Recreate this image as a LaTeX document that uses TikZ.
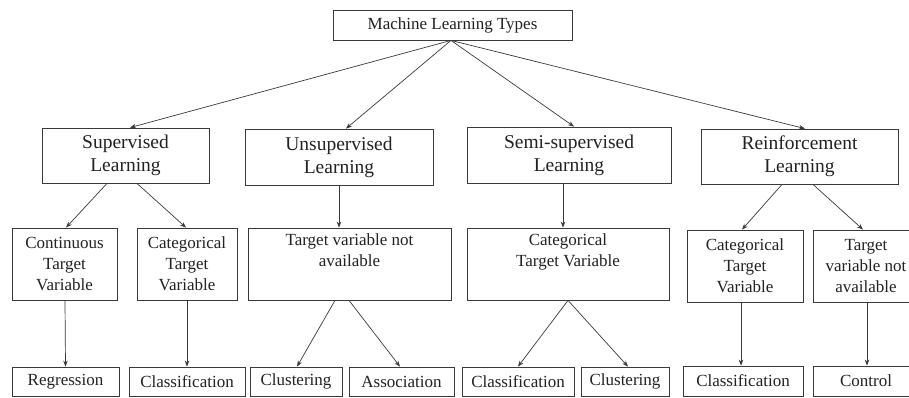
\documentclass[tikz,border=0pt]{standalone}
\usepackage{fontspec}
\setmainfont{Liberation Serif}
\usetikzlibrary{arrows.meta}
\definecolor{ink}{HTML}{222222}
\definecolor{edge}{HTML}{3A3A3A}
\begin{document}
\begin{tikzpicture}[x=1pt,y=-1pt,
  box/.style={draw=edge, line width=0.8pt, inner sep=0pt, align=center, text=ink},
  topfont/.style={font=\fontsize{17}{20}\selectfont},
  lvtwo/.style={font=\fontsize{19.5}{23}\selectfont},
  lvthree/.style={font=\fontsize{17}{21}\selectfont},
  leaf/.style={font=\fontsize{17}{20}\selectfont},
  conn/.style={draw=edge, line width=0.7pt, -{Stealth[length=6pt,width=4.5pt]}}
]
\useasboundingbox (0,0) rectangle (909,397);
\fill[white] (0,0) rectangle (909,397);

% top
\node[box, topfont, minimum width=239pt, minimum height=30pt] (top) at (452.5,25) {Machine Learning Types};

% level 2
\node[box, lvtwo, minimum width=167pt, minimum height=55pt] (sup) at (125.5,155.5) {Supervised\\Learning};
\node[box, lvtwo, minimum width=188pt, minimum height=56pt] (uns) at (339,157) {Unsupervised\\Learning};
\node[box, lvtwo, minimum width=204pt, minimum height=56pt] (semi) at (569,155) {Semi-supervised\\Learning};
\node[box, lvtwo, minimum width=197pt, minimum height=55pt] (rein) at (799.5,156.5) {Reinforcement\\Learning};

% level 3
\node[box, lvthree, minimum width=105pt, minimum height=72pt] (cont) at (64.5,264) {Continuous\\Target\\Variable};
\node[box, lvthree, minimum width=100pt, minimum height=72pt] (catA) at (187,264) {Categorical\\Target\\Variable};
\node[box, lvthree, minimum width=203pt, minimum height=72pt] (tnaA) at (349.5,264) {Target variable not\\available\\\strut};
\node[box, lvthree, minimum width=202pt, minimum height=72pt] (catB) at (568,264) {Categorical\\Target Variable\\\strut};
\node[box, lvthree, minimum width=116pt, minimum height=72pt] (catC) at (745,266) {Categorical\\Target\\Variable};
\node[box, lvthree, minimum width=106pt, minimum height=72pt] (tnaB) at (866,266) {Target\\variable not\\available};

% leaves
\node[box, leaf, minimum width=107pt, minimum height=29pt] (reg) at (65.5,381.5) {Regression};
\node[box, leaf, minimum width=116pt, minimum height=29pt] (clsA) at (187,381.5) {Classification};
\node[box, leaf, minimum width=92pt, minimum height=29pt] (cluA) at (296,381.5) {Clustering};
\node[box, leaf, minimum width=105pt, minimum height=29pt] (asc) at (401.5,381.5) {Association};
\node[box, leaf, minimum width=112pt, minimum height=29pt] (clsB) at (518,381.5) {Classification};
\node[box, leaf, minimum width=88pt, minimum height=29pt] (cluB) at (625,381.5) {Clustering};
\node[box, leaf, minimum width=120pt, minimum height=30pt] (clsC) at (743,381) {Classification};
\node[box, leaf, minimum width=106pt, minimum height=30pt] (ctl) at (866,381) {Control};

% connectors top -> level 2
\draw[conn] ([xshift=-1.5pt]top.south) -- ([xshift=4.5pt]sup.north);
\draw[conn] ([xshift=-1.5pt]top.south) -- ([xshift=7pt]uns.north);
\draw[conn] ([xshift=-1.5pt]top.south) -- ([xshift=5pt]semi.north);
\draw[conn] ([xshift=-1.5pt]top.south) -- ([xshift=5.5pt]rein.north);

% level 2 -> level 3
\draw[conn] ([xshift=-18.5pt]sup.south) -- ([xshift=1.5pt]cont.north);
\draw[conn] ([xshift=11.5pt]sup.south) -- ([xshift=-1pt]catA.north);
\draw[conn] (uns.south) -- (uns.south |- tnaA.north);
\draw[conn] ([xshift=-6pt]semi.south) -- ([xshift=-6pt]semi.south |- catB.north);
\draw[conn] ([xshift=-17.5pt]rein.south) -- ([xshift=-3pt]catC.north);
\draw[conn] ([xshift=13.5pt]rein.south) -- ([xshift=-3pt]tnaB.north);

% level 3 -> leaves
\draw[conn] ([xshift=0.5pt]cont.south) -- (reg.north);
\draw[conn] (catA.south) -- (clsA.north);
\draw[conn] ([xshift=-14.5pt]tnaA.south) -- ([xshift=1pt]cluA.north);
\draw[conn] ([xshift=-0.5pt]tnaA.south) -- ([xshift=-1.5pt]asc.north);
\draw[conn] (catB.south) -- (clsB.north);
\draw[conn] (catB.south) -- ([xshift=3pt]cluB.north);
\draw[conn] ([xshift=-4pt]catC.south) -- ([xshift=-4pt]catC.south |- clsC.north);
\draw[conn] ([xshift=1pt]tnaB.south) -- ([xshift=1pt]tnaB.south |- ctl.north);
\end{tikzpicture}
\end{document}
